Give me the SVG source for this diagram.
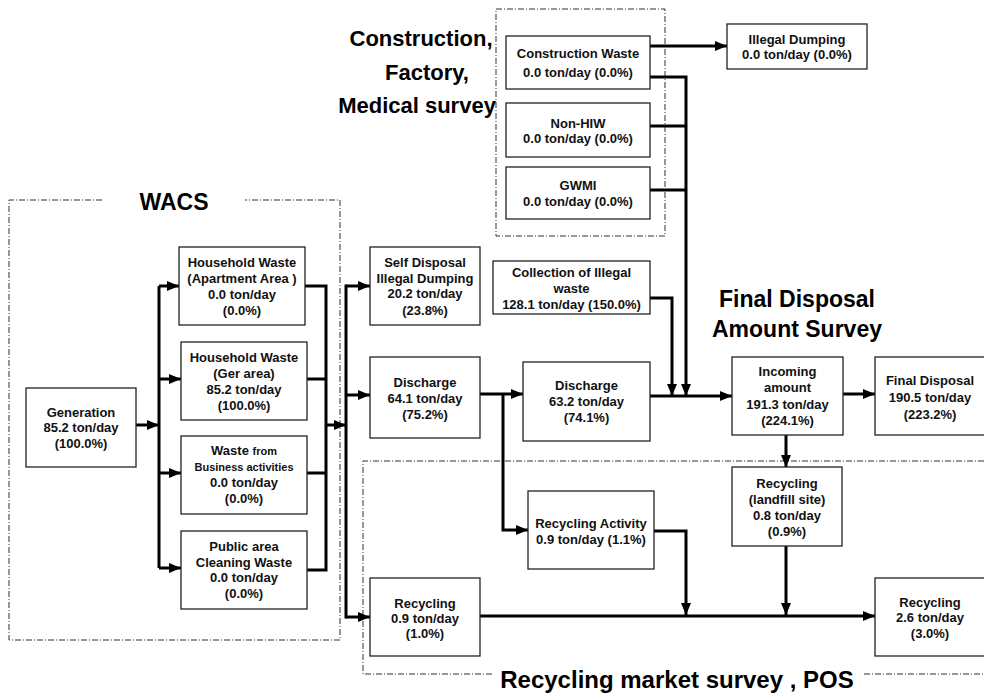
<svg xmlns="http://www.w3.org/2000/svg" width="984" height="695" viewBox="0 0 984 695">
<style>
.box{fill:#fff;stroke:#222;stroke-width:1.3}
.t{font-family:"Liberation Sans",Arial,sans-serif;font-weight:bold;font-size:13px;fill:#111;text-anchor:middle}
.s{font-size:11px}
.big{font-family:"Liberation Sans",Arial,sans-serif;font-weight:bold;font-size:23px;fill:#000;text-anchor:middle}
.dash{fill:none;stroke:#333;stroke-width:1;stroke-dasharray:6 2 1 2}
.c{fill:none;stroke:#000;stroke-width:3}
.a{marker-end:url(#ah)}
</style>
<defs>
<marker id="ah" markerUnits="userSpaceOnUse" markerWidth="12" markerHeight="10" refX="12" refY="5" orient="auto">
<path d="M0,0 L12,5 L0,10 z" fill="#000"/>
</marker>
</defs>
<rect width="984" height="695" fill="#fff"/>

<g id="regions">
<path class="dash" d="M102,200 H9 V640 H340 V200 H245"/>
<text class="big" x="174" y="210">WACS</text>
<rect class="dash" x="496" y="9" width="169" height="227"/>
<text class="big" x="421" y="46" style="font-size:22px">Construction,</text>
<text class="big" x="427" y="80" style="font-size:22px">Factory,</text>
<text class="big" x="417" y="113" style="font-size:22px">Medical survey</text>
<path class="dash" d="M492,674 H363 V461 H990"/>
<path class="dash" d="M864,674 H990"/>
<text class="big" x="677" y="688" style="font-size:24px">Recycling market survey , POS</text>
<text class="big" x="797" y="307">Final Disposal</text>
<text class="big" x="797" y="337">Amount Survey</text>
</g>

<g id="connectors">
<path class="c a" d="M136,425 H159"/>
<path class="c" d="M159,286 V568"/>
<path class="c a" d="M159,286 H179"/>
<path class="c a" d="M159,379 H181"/>
<path class="c a" d="M159,473 H181"/>
<path class="c a" d="M159,568 H181"/>
<path class="c" d="M305,286 H326 M307,379 H326 M307,473 H326 M307,570 H326 M326,284.5 V571.5"/>
<path class="c a" d="M326,425 H346"/>
<path class="c" d="M346,284.5 V618.5"/>
<path class="c a" d="M346,286 H370"/>
<path class="c a" d="M346,395 H370"/>
<path class="c a" d="M346,617 H370"/>
<path class="c a" d="M480,394 H523"/>
<path class="c a" d="M503,394 V530 H528"/>
<path class="c a" d="M650,396 H732"/>
<path class="c a" d="M650,298 H672 V396"/>
<path class="c a" d="M650,77 H686 V396"/>
<path class="c" d="M650,126 H686 M650,190 H686"/>
<path class="c a" d="M650,46 H727"/>
<path class="c a" d="M843,394 H875"/>
<path class="c a" d="M786,435 V467"/>
<path class="c a" d="M786,546 V615"/>
<path class="c a" d="M654,531 H686 V615"/>
<path class="c a" d="M480,616 H875"/>
</g>

<g id="generation">
<rect class="box" x="26" y="388" width="110" height="79"/>
<text class="t" x="81" y="417">Generation</text>
<text class="t" x="81" y="432">85.2 ton/day</text>
<text class="t" x="81" y="448">(100.0%)</text>
</g>
<g id="hw-apartment">
<rect class="box" x="179" y="247" width="126" height="78"/>
<text class="t" x="242" y="267">Household Waste</text>
<text class="t" x="242" y="283">(Apartment Area )</text>
<text class="t" x="242" y="299">0.0 ton/day</text>
<text class="t" x="242" y="315">(0.0%)</text>
</g>
<g id="hw-ger">
<rect class="box" x="181" y="342" width="126" height="78"/>
<text class="t" x="244" y="362">Household Waste</text>
<text class="t" x="244" y="378">(Ger area)</text>
<text class="t" x="244" y="394">85.2 ton/day</text>
<text class="t" x="244" y="410">(100.0%)</text>
</g>
<g id="business">
<rect class="box" x="181" y="436" width="126" height="78"/>
<text class="t" x="244" y="455">Waste <tspan class="s">from</tspan></text>
<text class="t s" x="244" y="471">Business activities</text>
<text class="t" x="244" y="487">0.0 ton/day</text>
<text class="t" x="244" y="503">(0.0%)</text>
</g>
<g id="public">
<rect class="box" x="181" y="531" width="126" height="78"/>
<text class="t" x="244" y="551">Public area</text>
<text class="t" x="244" y="567">Cleaning Waste</text>
<text class="t" x="244" y="582">0.0 ton/day</text>
<text class="t" x="244" y="598">(0.0%)</text>
</g>
<g id="self-disposal">
<rect class="box" x="370" y="247" width="110" height="78"/>
<text class="t" x="425" y="267">Self Disposal</text>
<text class="t" x="425" y="283">Illegal Dumping</text>
<text class="t" x="425" y="298">20.2 ton/day</text>
<text class="t" x="425" y="315">(23.8%)</text>
</g>
<g id="discharge1">
<rect class="box" x="370" y="357" width="110" height="81"/>
<text class="t" x="425" y="387">Discharge</text>
<text class="t" x="425" y="403">64.1 ton/day</text>
<text class="t" x="425" y="419">(75.2%)</text>
</g>
<g id="collection-illegal">
<rect class="box" x="493" y="261" width="157" height="53"/>
<text class="t" x="571.5" y="277">Collection of Illegal</text>
<text class="t" x="571.5" y="293">waste</text>
<text class="t" x="571.5" y="309">128.1 ton/day (150.0%)</text>
</g>
<g id="discharge2">
<rect class="box" x="523" y="362" width="127" height="79"/>
<text class="t" x="586.5" y="390">Discharge</text>
<text class="t" x="586.5" y="406">63.2 ton/day</text>
<text class="t" x="586.5" y="422">(74.1%)</text>
</g>
<g id="construction-waste">
<rect class="box" x="506" y="36" width="144" height="53"/>
<text class="t" x="578" y="58">Construction Waste</text>
<text class="t" x="578" y="77">0.0 ton/day (0.0%)</text>
</g>
<g id="non-hiw">
<rect class="box" x="506" y="103" width="144" height="54"/>
<text class="t" x="578" y="128">Non-HIW</text>
<text class="t" x="578" y="143">0.0 ton/day (0.0%)</text>
</g>
<g id="gwmi">
<rect class="box" x="506" y="167" width="144" height="52"/>
<text class="t" x="578" y="190">GWMI</text>
<text class="t" x="578" y="206">0.0 ton/day (0.0%)</text>
</g>
<g id="illegal-dumping">
<rect class="box" x="727" y="24" width="140" height="45"/>
<text class="t" x="797" y="44">Illegal Dumping</text>
<text class="t" x="797" y="59">0.0 ton/day (0.0%)</text>
</g>
<g id="incoming">
<rect class="box" x="732" y="357" width="111" height="78"/>
<text class="t" x="787.5" y="376">Incoming</text>
<text class="t" x="787.5" y="392">amount</text>
<text class="t" x="787.5" y="409">191.3 ton/day</text>
<text class="t" x="787.5" y="425">(224.1%)</text>
</g>
<g id="final-disposal">
<rect class="box" x="875" y="357" width="112" height="78"/>
<text class="t" x="930" y="385">Final Disposal</text>
<text class="t" x="930" y="402">190.5 ton/day</text>
<text class="t" x="930" y="419">(223.2%)</text>
</g>
<g id="recycling-activity">
<rect class="box" x="528" y="491" width="126" height="78"/>
<text class="t" x="591" y="528">Recycling Activity</text>
<text class="t" x="591" y="544">0.9 ton/day (1.1%)</text>
</g>
<g id="recycling-landfill">
<rect class="box" x="732" y="467" width="110" height="79"/>
<text class="t" x="787" y="488">Recycling</text>
<text class="t" x="787" y="504">(landfill site)</text>
<text class="t" x="787" y="520">0.8 ton/day</text>
<text class="t" x="787" y="536">(0.9%)</text>
</g>
<g id="recycling-1">
<rect class="box" x="370" y="578" width="110" height="78"/>
<text class="t" x="425" y="608">Recycling</text>
<text class="t" x="425" y="623">0.9 ton/day</text>
<text class="t" x="425" y="638">(1.0%)</text>
</g>
<g id="recycling-total">
<rect class="box" x="875" y="578" width="112" height="78"/>
<text class="t" x="930" y="607">Recycling</text>
<text class="t" x="930" y="622">2.6 ton/day</text>
<text class="t" x="930" y="638">(3.0%)</text>
</g>
</svg>
